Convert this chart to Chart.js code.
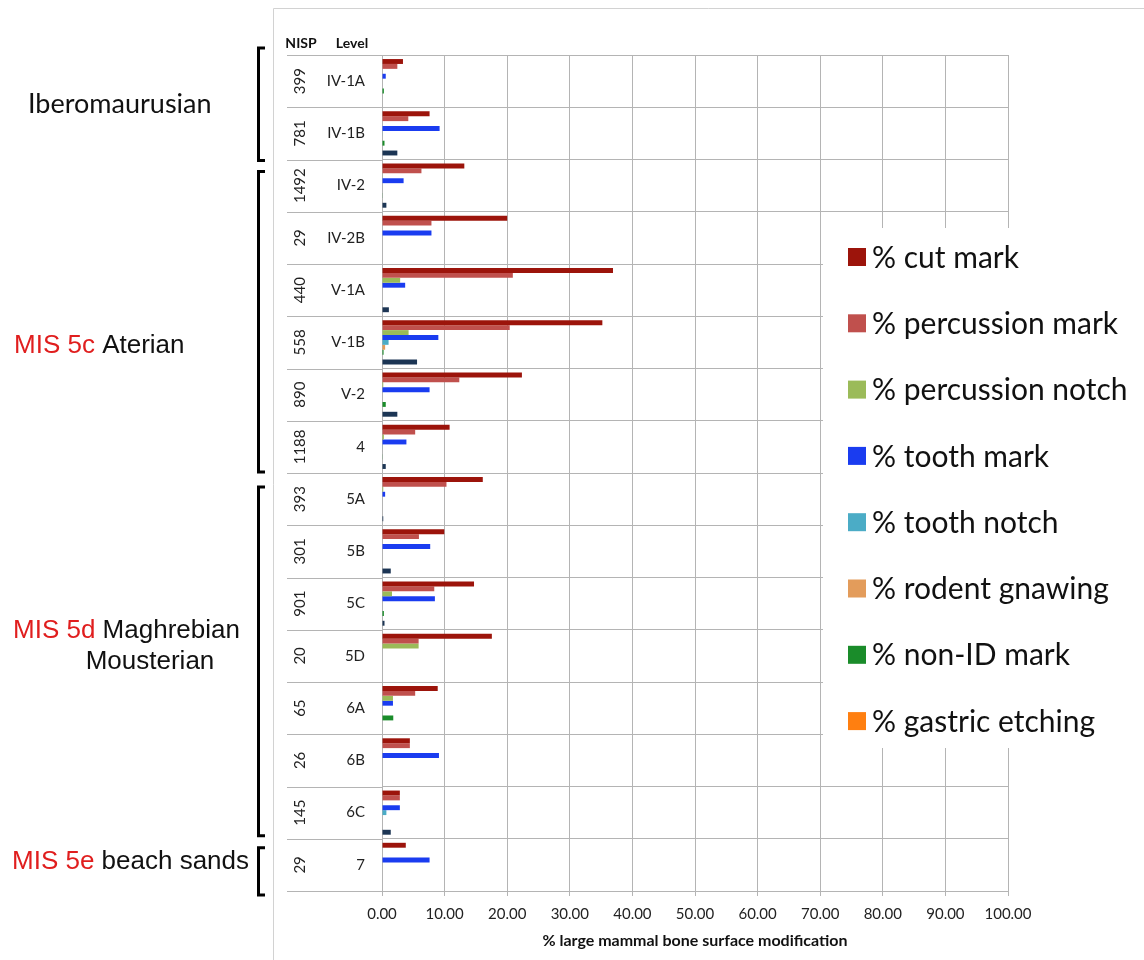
<!DOCTYPE html>
<html>
<head>
<meta charset="utf-8">
<title>Bone surface modification by level</title>
<script src="https://cdn.jsdelivr.net/npm/chart.js@4.4.1/dist/chart.umd.min.js"></script>
<style>
  html, body { margin: 0; padding: 0; background: #ffffff; }
  #wrap { width: 1144px; height: 960px; position: relative; }
</style>
</head>
<body>
<div id="wrap"><canvas id="chart" width="1144" height="960"></canvas></div>
<script>
// Archaeological levels (top to bottom) and their NISP counts
const levels = ['IV-1A', 'IV-1B', 'IV-2', 'IV-2B', 'V-1A', 'V-1B', 'V-2', '4',
                '5A', '5B', '5C', '5D', '6A', '6B', '6C', '7'];
const nisp = [399, 781, 1492, 29, 440, 558, 890, 1188, 393, 301, 901, 20, 65, 26, 145, 29];

// Percentage of large mammal bone surfaces per modification type
const cutMark        = [3.35, 7.6, 13.15, 20.0, 36.9, 35.2, 22.35, 10.8, 16.1, 9.95, 14.7, 17.55, 8.9, 4.45, 2.85, 3.8];
const percussionMark = [2.45, 4.2, 6.3, 7.9, 20.9, 20.4, 12.35, 5.3, 10.3, 5.9, 8.35, 5.85, 5.3, 4.45, 2.85, 0];
const percussionNotch= [0, 0, 0.1, 0, 2.9, 4.25, 0.2, 0.3, 0.2, 0, 1.6, 5.85, 1.75, 0, 0, 0];
const toothMark      = [0.6, 9.2, 3.45, 7.9, 3.7, 9.0, 7.6, 3.9, 0.5, 7.7, 8.45, 0, 1.75, 9.1, 2.85, 7.6];
const toothNotch     = [0, 0.1, 0, 0, 0, 1.05, 0, 0.1, 0, 0, 0, 0, 0, 0, 0.7, 0];
const rodentGnawing  = [0, 0, 0, 0, 0, 0.5, 0, 0, 0, 0, 0, 0, 0, 0, 0, 0];
const nonIdMark      = [0.3, 0.4, 0.1, 0, 0, 0.25, 0.6, 0.1, 0, 0, 0.3, 0, 1.8, 0, 0, 0];
const gastricEtching = [0, 0, 0, 0, 0, 0, 0, 0, 0, 0, 0, 0, 0, 0, 0, 0];
const otherMarks     = [0, 2.45, 0.7, 0, 1.1, 5.6, 2.45, 0.6, 0.2, 1.4, 0.4, 0, 0, 0, 1.4, 0];

// x-axis ticks
const xTicks = [0, 10, 20, 30, 40, 50, 60, 70, 80, 90, 100];

// Cultural periods spanning ranges of levels
const periods = [
  { mis: '',       name: 'Iberomaurusian', line2: '', from: 0,  to: 1 },
  { mis: 'MIS 5c', name: 'Aterian',        line2: '', from: 2,  to: 7 },
  { mis: 'MIS 5d', name: 'Maghrebian',     line2: 'Mousterian', from: 8, to: 14 },
  { mis: 'MIS 5e', name: 'beach sands',    line2: '', from: 15, to: 15 }
];

const GRID = '#b4b4b4';

function buildChart() {
  const datasets = [
    { label: '% cut mark',          data: cutMark,         backgroundColor: '#9c140b' },
    { label: '% percussion mark',   data: percussionMark,  backgroundColor: '#c0504d' },
    { label: '% percussion notch',  data: percussionNotch, backgroundColor: '#9bbb59' },
    { label: '% tooth mark',        data: toothMark,       backgroundColor: '#1a3cf0' },
    { label: '% tooth notch',       data: toothNotch,      backgroundColor: '#4bacc6' },
    { label: '% rodent gnawing',    data: rodentGnawing,   backgroundColor: '#e39c5b' },
    { label: '% non-ID mark',       data: nonIdMark,       backgroundColor: '#1a8c2a' },
    { label: '% gastric etching',   data: gastricEtching,  backgroundColor: '#ff7f10' },
    { label: '% other marks',       data: otherMarks,      backgroundColor: '#1c3554', inLegend: false }
  ].map(d => Object.assign({ borderWidth: 0, barPercentage: 1.0, categoryPercentage: 0.845 }, d));

  // Frame, multi-level category labels, period brackets and legend
  const decorations = {
    id: 'decorations',
    beforeDatasetsDraw(chart) {
      const ctx = chart.ctx;
      const area = chart.chartArea;
      const band = (area.bottom - area.top) / levels.length;
      ctx.save();
      // outer frame
      ctx.strokeStyle = '#d2d2d2';
      ctx.lineWidth = 1;
      ctx.beginPath();
      ctx.moveTo(273.5, 960); ctx.lineTo(273.5, 8.5); ctx.lineTo(1144, 8.5);
      ctx.stroke();
      // category separators continued under the label columns
      ctx.strokeStyle = GRID;
      ctx.beginPath();
      for (let k = 0; k <= levels.length; k++) {
        const y = Math.round(area.top + k * band) + 0.5;
        ctx.moveTo(287, y); ctx.lineTo(area.left, y);
      }
      ctx.stroke();
      ctx.restore();
    },
    afterDraw(chart) {
      const ctx = chart.ctx;
      const area = chart.chartArea;
      const yScale = chart.scales.y;
      const band = (area.bottom - area.top) / levels.length;
      ctx.save();

      // column headers
      ctx.fillStyle = '#111';
      ctx.font = 'bold 14px Lato';
      ctx.textAlign = 'center';
      ctx.textBaseline = 'middle';
      ctx.fillText('NISP', 301, 43);
      ctx.fillText('Level', 352, 43);

      // NISP (rotated) and level names
      ctx.font = '15px Lato';
      ctx.fillStyle = '#222';
      levels.forEach((lv, i) => {
        const yc = yScale.getPixelForValue(i);
        ctx.save();
        ctx.translate(300, yc);
        ctx.rotate(-Math.PI / 2);
        ctx.textAlign = 'center';
        ctx.fillText(String(nisp[i]), 0, 0);
        ctx.restore();
        ctx.textAlign = 'right';
        ctx.fillText(lv, 365, yc);
      });

      // period brackets
      const bracketPad = [[-7, 1], [12, -1], [14, -3], [9, 4]];
      ctx.strokeStyle = '#000';
      ctx.lineWidth = 3;
      periods.forEach((p, i) => {
        const y1 = area.top + p.from * band + bracketPad[i][0];
        const y2 = area.top + (p.to + 1) * band + bracketPad[i][1];
        ctx.beginPath();
        ctx.moveTo(265, y1); ctx.lineTo(258.5, y1); ctx.lineTo(258.5, y2); ctx.lineTo(265, y2);
        ctx.stroke();
      });

      // period names
      const labelPos = [[28, 104], [14, 346], [13, 631], [12, 862]];
      ctx.textAlign = 'left';
      ctx.textBaseline = 'middle';
      periods.forEach((p, i) => {
        let [x, y] = labelPos[i];
        if (p.mis) {
          ctx.font = '26px "Liberation Sans"';
          ctx.fillStyle = '#e01e1e';
          ctx.fillText(p.mis, x, y);
          x += ctx.measureText(p.mis + ' ').width;
          ctx.fillStyle = '#111';
          ctx.fillText(p.name, x, y);
          if (p.line2) {
            ctx.textAlign = 'center';
            ctx.fillText(p.line2, 150, y + 31);
            ctx.textAlign = 'left';
          }
        } else {
          ctx.font = '27px Lato';
          ctx.fillStyle = '#111';
          ctx.fillText(p.name, x, y);
        }
      });

      // legend panel
      ctx.fillStyle = '#ffffff';
      ctx.fillRect(823, 228, 1144 - 823, 520);
      const items = chart.data.datasets.filter(d => d.inLegend !== false);
      ctx.font = '30px Lato';
      ctx.textAlign = 'left';
      ctx.textBaseline = 'middle';
      items.forEach((d, i) => {
        const y = 257 + i * 66.3;
        ctx.fillStyle = d.backgroundColor;
        ctx.fillRect(848, y - 9, 18, 18);
        ctx.fillStyle = '#111';
        ctx.fillText(d.label, 872, y + 1);
      });
      ctx.restore();
    }
  };

  new Chart(document.getElementById('chart'), {
    type: 'bar',
    data: { labels: levels, datasets },
    options: {
      indexAxis: 'y',
      responsive: false,
      animation: false,
      devicePixelRatio: 1,
      layout: { padding: { left: 0, right: 136, top: 55, bottom: 0 } },
      plugins: { legend: { display: false }, tooltip: { enabled: false } },
      scales: {
        x: {
          type: 'linear',
          min: xTicks[0],
          max: xTicks[xTicks.length - 1],
          afterBuildTicks(scale) { scale.ticks = xTicks.map(v => ({ value: v })); },
          afterFit(scale) { scale.height = 69; },
          grid: { color: GRID, lineWidth: 1, drawTicks: true, tickLength: 5, tickColor: GRID },
          border: { color: GRID },
          ticks: {
            padding: 9,
            color: '#222',
            font: { family: 'Lato', size: 15 },
            callback: v => Number(v).toFixed(2),
            maxRotation: 0
          },
          title: {
            display: true,
            text: '% large mammal bone surface modification',
            color: '#111',
            font: { family: 'Lato', size: 16, weight: 'bold' },
            padding: { top: 4, bottom: 10 }
          }
        },
        y: {
          type: 'category',
          offset: true,
          grid: { color: GRID, lineWidth: 1, offset: true, drawTicks: false },
          border: { color: GRID },
          ticks: { display: false },
          afterFit(scale) { scale.width = 382; }
        }
      }
    },
    plugins: [decorations]
  });
}

Promise.all([
  document.fonts.load('15px Lato'),
  document.fonts.load('bold 14px Lato'),
  document.fonts.load('26px "Liberation Sans"')
]).then(buildChart, buildChart);
</script>
</body>
</html>
